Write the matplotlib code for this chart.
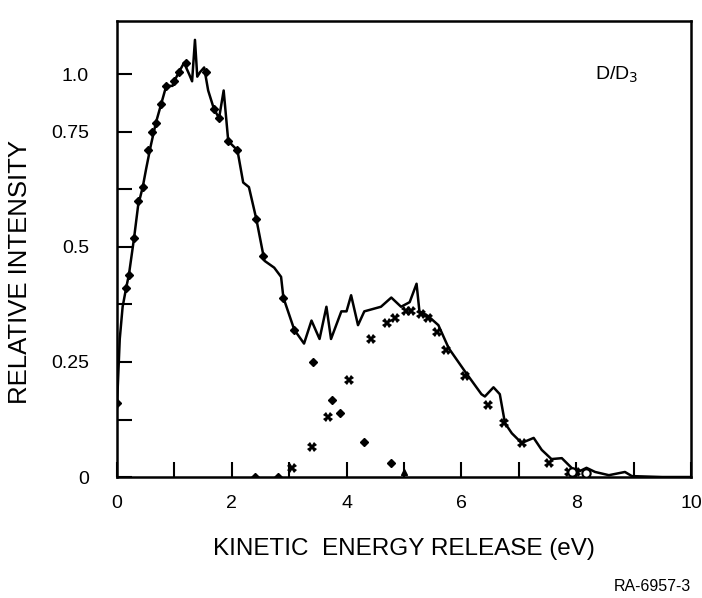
import matplotlib
matplotlib.use("Agg")
import matplotlib.pyplot as plt

# Total spectrum (solid curve)
curve_x = [0.0, 0.05, 0.1, 0.16, 0.21, 0.30, 0.37, 0.45, 0.51, 0.59, 0.68, 0.77, 0.86, 0.97,
           1.0, 1.08, 1.17, 1.26, 1.31, 1.36, 1.40, 1.45, 1.52, 1.59, 1.69, 1.78, 1.86, 1.94,
           2.1, 2.2, 2.3, 2.43, 2.57, 2.74, 2.86, 2.9, 3.09, 3.26, 3.39, 3.53, 3.65, 3.73,
           3.91, 4.0, 4.08, 4.2, 4.31, 4.6, 4.78, 4.95, 5.1, 5.22, 5.27, 5.42, 5.6, 5.78,
           6.06, 6.35, 6.41, 6.56, 6.67, 6.76, 6.88, 7.05, 7.26, 7.4, 7.57, 7.75, 7.92, 8.0,
           8.18, 8.33, 8.57, 8.85, 8.97, 9.5, 10.0]
curve_y = [0.15, 0.30, 0.37, 0.41, 0.44, 0.52, 0.59, 0.63, 0.67, 0.72, 0.77, 0.81, 0.85, 0.85,
           0.86, 0.88, 0.90, 0.875, 0.86, 0.95, 0.87, 0.88, 0.89, 0.84, 0.80, 0.78, 0.84, 0.73,
           0.71, 0.64, 0.63, 0.56, 0.47, 0.455, 0.435, 0.39, 0.32, 0.29, 0.34, 0.30, 0.37, 0.30,
           0.36, 0.36, 0.395, 0.33, 0.36, 0.37, 0.39, 0.37, 0.38, 0.42, 0.36, 0.35, 0.33, 0.28,
           0.23, 0.18, 0.175, 0.195, 0.18, 0.117, 0.095, 0.074, 0.085, 0.059, 0.039, 0.041, 0.02, 0.009,
           0.02, 0.011, 0.004, 0.011, 0.002, 0.0, 0.0]

# Diamond markers (low-energy component)
diam_x = [0.0, 0.16, 0.21, 0.30, 0.37, 0.45, 0.54, 0.62, 0.68, 0.77, 0.86, 1.0, 1.08, 1.2,
          1.55, 1.69, 1.78, 1.94, 2.1, 2.43, 2.55, 2.9, 3.09,
          3.42, 3.75, 3.88, 4.31, 4.77, 2.4, 2.8]
diam_y = [0.16, 0.41, 0.44, 0.52, 0.60, 0.63, 0.71, 0.75, 0.77, 0.81, 0.85, 0.86, 0.88, 0.90,
          0.88, 0.80, 0.78, 0.73, 0.71, 0.56, 0.48, 0.39, 0.32,
          0.25, 0.167, 0.14, 0.076, 0.03, 0.0, 0.0]

# Cross markers (high-energy component)
cross_x = [3.05, 3.39, 3.68, 4.05, 4.42, 4.71, 4.85, 5.03, 5.13, 5.3, 5.42, 5.57, 5.74, 6.06,
           6.47, 6.74, 7.05, 7.52, 7.87, 8.0]
cross_y = [0.02, 0.065, 0.13, 0.21, 0.30, 0.335, 0.345, 0.36, 0.36, 0.355, 0.345, 0.315, 0.275, 0.22,
           0.157, 0.117, 0.073, 0.03, 0.01, 0.01]

# Open circles
circ_x = [7.92, 8.18]
circ_y = [0.01, 0.008]

# Triangle
tri_x = [5.0]
tri_y = [0.01]

xticks = [0, 2, 4, 6, 8, 10]
xtick_labels = ["0", "2", "4", "6", "8", "10"]
ytick_pos = [0, 0.25, 0.5, 0.75, 0.875]
ytick_labels = ["0", "0.25", "0.5", "0.75", "1.0"]

plt.rcParams['font.family'] = ['Liberation Sans', 'DejaVu Sans']

fig = plt.figure(figsize=(7.02, 5.98), dpi=100)
ax = fig.add_axes([0.1665, 0.2023, 0.8178, 0.7626])

ax.plot(curve_x, curve_y, color='black', lw=1.8, zorder=3)
ax.plot(diam_x, diam_y, linestyle='none', marker='D', ms=4, color='black', zorder=4)
ax.plot(cross_x, cross_y, linestyle='none', marker='X', ms=6.5, color='black', mew=0, zorder=4)
ax.plot(circ_x, circ_y, linestyle='none', marker='o', ms=6, mfc='white', mec='black', mew=1.5, zorder=4)
ax.plot(tri_x, tri_y, linestyle='none', marker='^', ms=5, color='black', zorder=4)

ax.set_xlim(0, 10)
ax.set_ylim(0, 0.991)

ax.set_xticks(list(range(0, 11)))
ax.set_xticklabels([xtick_labels[xticks.index(v)] if v in xticks else "" for v in range(0, 11)])
allpos = [0, 0.125, 0.25, 0.375, 0.5, 0.625, 0.75, 0.875]
ax.set_yticks(allpos)
lab = dict(zip(ytick_pos, ytick_labels))
ax.set_yticklabels([lab.get(v, "") for v in allpos])

ax.tick_params(axis='both', direction='in', length=11, width=1.5, labelsize=14)
ax.tick_params(axis='x', pad=13)
ax.tick_params(axis='y', pad=20)
for s in ax.spines.values():
    s.set_linewidth(1.8)

ax.set_xlabel("KINETIC  ENERGY RELEASE (eV)", fontsize=17.5, labelpad=19)
ax.set_ylabel("RELATIVE INTENSITY", fontsize=18.5)
ax.yaxis.set_label_coords(-0.148, 0.45)

ax.text(8.7, 0.875, "D/D$_3$", fontsize=14, ha='center', va='center')
fig.text(0.985, 0.006, "RA-6957-3", fontsize=11.5, ha='right', va='bottom')

fig.savefig("out.png", dpi=100)
